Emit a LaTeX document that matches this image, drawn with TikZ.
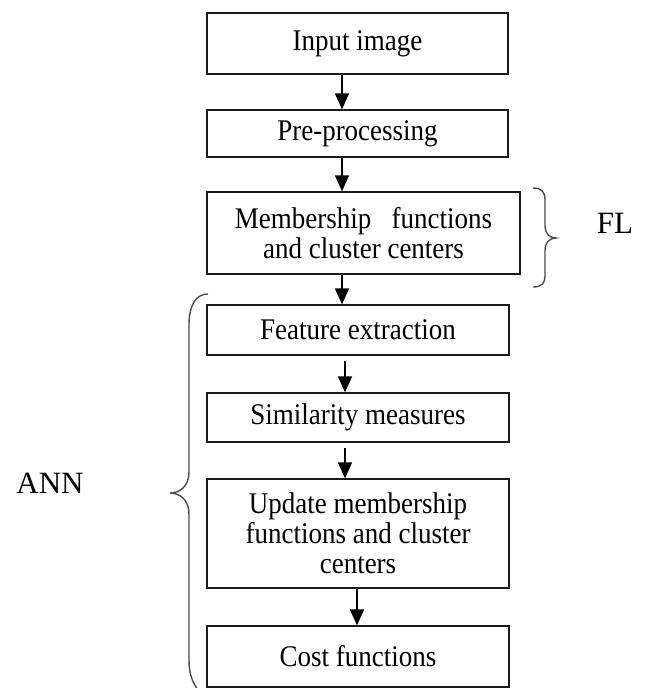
\documentclass[tikz,border=0pt]{standalone}
\usepackage{fontspec}
\setmainfont{Liberation Serif}
\newfontfamily\boxfnt[FakeStretch=0.9]{Liberation Serif}
\usetikzlibrary{arrows.meta}
\begin{document}
\begin{tikzpicture}[x=1pt,y=-1pt,
  stepbox/.style={draw=black!90, line width=1.3pt, rectangle, inner sep=0pt,
    align=center, font=\boxfnt\fontsize{30}{30}\selectfont},
  arr/.style={line width=1.4pt, -{Triangle[length=16pt,width=14pt]}},
  brace/.style={draw=black!70, line width=1.4pt},
  side/.style={font=\fontsize{31}{31}\selectfont, anchor=base, inner sep=0pt}]
\useasboundingbox (0,0) rectangle (646,688);

\node[stepbox, minimum width=301pt, minimum height=61pt] (b1) at (357.5,43.5) {Input image};
\node[stepbox, minimum width=301pt, minimum height=47pt] (b2) at (357.5,133.5) {Pre-processing};
\node[stepbox, minimum width=313pt, minimum height=82pt] (b3) at (363.5,233) {Membership\ \ \ functions\\and cluster centers};
\node[stepbox, minimum width=302pt, minimum height=50pt] (b4) at (358,330) {Feature extraction};
\node[stepbox, minimum width=302pt, minimum height=49pt] (b5) at (358,417.5) {Similarity measures};
\node[stepbox, minimum width=302pt, minimum height=109pt] (b6) at (358,533.5) {Update membership\\functions and cluster\\centers};
\node[stepbox, minimum width=302pt, minimum height=61pt] (b7) at (358,656.5) {Cost functions};

\coordinate (xa) at (342,0);
\coordinate (xb) at (345,0);
\coordinate (xc) at (357,0);

\draw[arr] (b1.south -| xa) -- (b2.north -| xa);
\draw[arr] (b2.south -| xa) -- (b3.north -| xa);
\draw[arr] (b3.south -| xa) -- (b4.north -| xa);
\draw[arr, shorten <=5pt] (b4.south -| xb) -- (b5.north -| xb);
\draw[arr, shorten <=5pt] (b5.south -| xb) -- (b6.north -| xb);
\draw[arr] (b6.south -| xc) -- (b7.north -| xc);

% FL brace
\draw[brace] (533,188) .. controls (542,188) and (545,192) .. (545,200) -- (545,226)
  .. controls (545,233) and (549,238) .. (556,238)
  .. controls (549,238) and (545,243) .. (545,250) -- (545,276)
  .. controls (545,283) and (542,287) .. (533,287);
\node[side] (fl) at (615,233) {FL};

% ANN brace
\draw[brace] (208,294) .. controls (196,294) and (189,305) .. (189,325) -- (189,472)
  .. controls (189,486) and (180,493) .. (170,493)
  .. controls (180,493) and (189,500) .. (189,514) -- (189,660)
  .. controls (189,675) and (193,683) .. (198,690);
\node[side] (ann) at (50,493) {ANN};
\end{tikzpicture}
\end{document}
